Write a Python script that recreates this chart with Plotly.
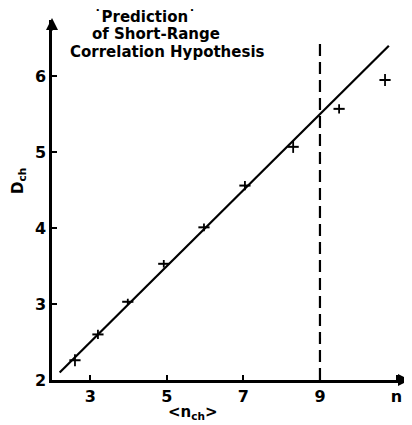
import plotly.graph_objects as go

# data
n_ch = [2.6, 3.2, 3.98, 4.92, 5.97, 7.04, 8.3, 9.5, 10.7]
d_ch = [2.26, 2.6, 3.03, 3.53, 4.01, 4.56, 5.07, 5.57, 5.95]
d_err = [0.08, 0.06, 0.04, 0.05, 0.05, 0.06, 0.08, 0.06, 0.08]
fit_x = [2.2, 10.8]
fit_y = [2.1, 6.4]
cut_x = [9, 9]
cut_y = [2.0, 6.47]
x_ticks = [3, 5, 7, 9, 11]
x_labels = ["3", "5", "7", "9", "n"]
y_ticks = [2, 3, 4, 5, 6]
title_lines = ["\u02d9Prediction\u02d9", "of Short-Range", "Correlation Hypothesis"]

FONT = "DejaVu Sans"
# page has an 8px body margin; plot area at page x 52..408, y 20..380
L, T, PW, PH = 52, 20, 356, 360


def px(x):
    return (x - L) / PW


def py(y):
    return (T + PH - y) / PH


fig = go.Figure()
fig.add_trace(go.Scatter(x=fit_x, y=fit_y, mode="lines",
                         line=dict(color="black", width=2.2), hoverinfo="skip"))
fig.add_trace(go.Scatter(x=cut_x, y=cut_y, mode="lines",
                         line=dict(color="black", width=2.2, dash="12px,6px"), hoverinfo="skip"))
fig.add_trace(go.Scatter(x=n_ch, y=d_ch, mode="markers",
                         marker=dict(symbol="line-ew", size=8, color="black",
                                     line=dict(color="black", width=2)),
                         error_y=dict(type="data", array=d_err, color="black",
                                      thickness=1.8, width=0)))

tickfont = dict(family=FONT, size=16, weight="bold")
fig.update_layout(
    width=404, height=417, showlegend=False,
    paper_bgcolor="white", plot_bgcolor="white",
    margin=dict(l=L - 8, r=4, t=T - 8, b=45),
    font=dict(family=FONT, color="black", size=14),
    xaxis=dict(range=[2, 11.3], tickvals=x_ticks, ticktext=x_labels,
               showgrid=False, zeroline=False, showline=True, linecolor="black",
               linewidth=2.5, ticks="inside", ticklen=5, tickwidth=1.5,
               tickcolor="black", tickfont=tickfont),
    yaxis=dict(range=[2, 6.74], tickvals=y_ticks,
               showgrid=False, zeroline=False, showline=True, linecolor="black",
               linewidth=2.5, ticks="inside", ticklen=5, tickwidth=1.5,
               tickcolor="black", tickfont=tickfont),
)

centers = [(145, 17), (156, 34.5), (167, 52)]
for t, (cx, cy) in zip(title_lines, centers):
    fig.add_annotation(text=t, xref="paper", yref="paper", x=px(cx), y=py(cy),
                       xanchor="center", yanchor="middle", showarrow=False,
                       font=dict(family=FONT, size=15, weight="bold"))

fig.add_annotation(text="D<sub>ch</sub>", xref="paper", yref="paper", x=px(18), y=py(181),
                   textangle=-90, showarrow=False, xanchor="center", yanchor="middle",
                   font=dict(family=FONT, size=15, weight="bold"))
fig.add_annotation(text="&lt;n<sub>ch</sub>&gt;", xref="paper", yref="paper", x=px(193), y=py(413),
                   showarrow=False, xanchor="center", yanchor="middle",
                   font=dict(family=FONT, size=15, weight="bold"))

# axis arrowheads
fig.add_annotation(text="", xref="paper", yref="paper", x=0, y=py(18), ax=0, ay=14,
                   showarrow=True, arrowhead=2, arrowsize=1.2, arrowwidth=2, arrowcolor="black")
fig.add_annotation(text="", xref="paper", yref="paper", x=px(410), y=0, ax=-14, ay=0,
                   showarrow=True, arrowhead=2, arrowsize=1.2, arrowwidth=2, arrowcolor="black")

fig.write_html("out.html")
